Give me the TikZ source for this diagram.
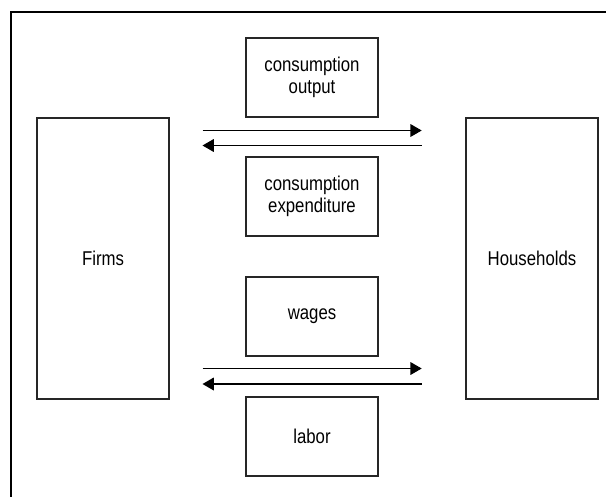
\documentclass[tikz,border=0pt]{standalone}
\usepackage{fontspec}
\setmainfont{Liberation Sans}[FakeStretch=0.84]
\usetikzlibrary{arrows.meta}

\tikzset{
	sector/.style={draw=black!85, line width=1pt, minimum width=3.3cm, minimum height=7.025cm},
	flow/.style={draw=black!85, line width=1pt, minimum width=3.3cm, minimum height=1.975cm, align=center},
	stream/.style={line width=0.9pt, -{Triangle[length=8pt,width=9pt]}}
}

\begin{document}
\begin{tikzpicture}[x=0.025cm,y=-0.025cm,font=\fontsize{14.2}{16.1}\selectfont]
\useasboundingbox (0,0) rectangle (606,496);

% outer frame
\draw [line width=1.7pt, line join=miter] (10.8,500)--(10.8,11.8)--(610,11.8);

% sectors
\node [sector] (firms) at (103,258.5) {Firms};
\node [sector] (households) at (532,258.5) {Households};

% flows between them
\node [flow] (output) at (312,77.5) {consumption\\output};
\node [flow] (expenditure) at (312,196.5) {consumption\\expenditure};
\node [flow] (wages) at (312,316.5) {wages};
\node [flow] (labor) at (312,436.5) {labor};

% arrow ends
\coordinate (g1) at (202.5,130.5);
\coordinate (g2) at (421.7,130.5);
\coordinate (e1) at (202.5,145.5);
\coordinate (e2) at (421.7,145.5);
\coordinate (w1) at (202.5,368.5);
\coordinate (w2) at (421.7,368.5);
\coordinate (l1) at (202.5,384);
\coordinate (l2) at (421.7,384);

\draw [stream] (g1)--(g2);
\draw [stream] (e2)--(e1);
\draw [stream] (w1)--(w2);
\draw [stream] (l2)--(l1);

\end{tikzpicture}
\end{document}
